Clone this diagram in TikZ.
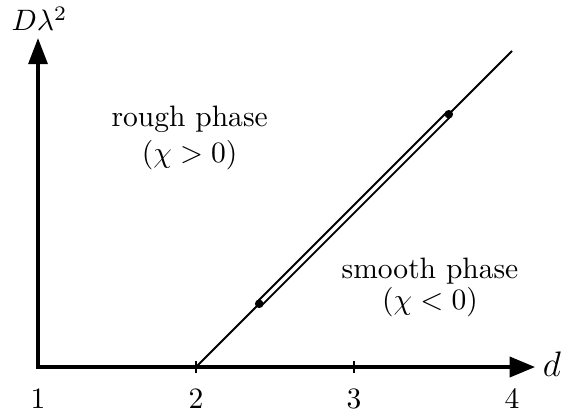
\documentclass[tikz,border=0pt]{standalone}
\usetikzlibrary{arrows.meta}
\begin{document}
\begin{tikzpicture}[x=53.5pt,y=53.5pt,
  axis/.style={line width=1.15pt,line join=miter},
  tickmark/.style={line width=0.45pt},
  phaseline/.style={line width=0.7pt},
  dblseg/.style={line width=0.7pt,double,double distance=1.2pt},
  dot/.style={circle,fill,inner sep=0pt,minimum size=2.9pt},
  lbl/.style={inner sep=0pt,anchor=base}]
\useasboundingbox (0.7595,-0.3038) rectangle (4.4177,2.3228);
\coordinate (O) at (1,0);
\coordinate (ytip) at (1,2.082);
\coordinate (xtip) at (4.146,0);
\draw[axis,{Triangle[length=8.8pt,width=6.4pt]}-{Triangle[length=8.6pt,width=6.8pt]}] (ytip) -- (O) -- (xtip);
\coordinate (t2a) at (2,-0.041); \coordinate (t2b) at (2,0.041);
\coordinate (t3a) at (3,-0.041); \coordinate (t3b) at (3,0.041);
\draw[tickmark] (t2a) -- (t2b);
\draw[tickmark] (t3a) -- (t3b);
\coordinate (c) at (2,0);
\coordinate (e) at (4,2);
\draw[phaseline] (c) -- (e);
\coordinate (pc) at (2.4,0.4);
\coordinate (qc) at (3.6,1.6);
\draw[dblseg] (pc) -- (qc);
\node[dot] (p) at (pc) {};
\node[dot] (q) at (qc) {};
\node[lbl] (l1) at (1,-0.265) {1};
\node[lbl] (l2) at (2,-0.265) {2};
\node[lbl] (l3) at (3,-0.265) {3};
\node[lbl] (l4) at (4,-0.265) {4};
\node[lbl] (dlab) at (4.253,-0.063) {\large $d$};
\node[lbl] (ylab) at (1.01,2.127) {$D\lambda^2$};
\node[lbl] (rough) at (1.96,1.52) {rough phase};
\node[lbl] (roughc) at (1.96,1.292) {$(\chi>0)$};
\node[lbl] (smooth) at (3.481,0.56) {smooth phase};
\node[lbl] (smoothc) at (3.481,0.361) {$(\chi<0)$};
\end{tikzpicture}
\end{document}
